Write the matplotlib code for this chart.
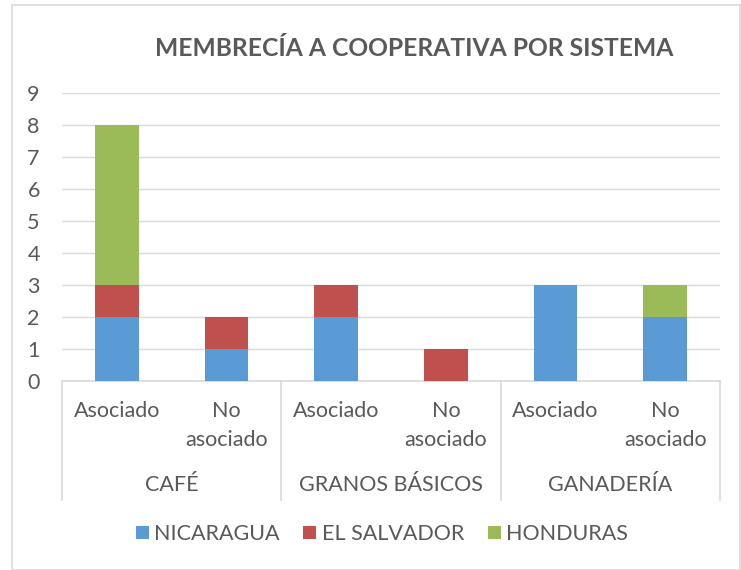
import matplotlib
matplotlib.use("Agg")
import matplotlib.pyplot as plt
import matplotlib.transforms as mtransforms
from matplotlib.patches import Rectangle

groups = ["CAFÉ", "GRANOS BÁSICOS", "GANADERÍA"]
subcats = ["Asociado", "No\nasociado"]
series_names = ["NICARAGUA", "EL SALVADOR", "HONDURAS"]
nicaragua = [2, 1, 2, 0, 3, 2]
el_salvador = [1, 1, 1, 1, 0, 0]
honduras = [5, 0, 0, 0, 0, 1]
colors = ["#5B9BD5", "#C0504D", "#9BBB59"]
yticks = list(range(0, 10))

plt.rcParams['font.family'] = ['Lato', 'DejaVu Sans']
txt = "#595959"
fs = 15.5

fig = plt.figure(figsize=(7.41, 5.70), dpi=100)
ax = fig.add_axes([62/741, 1-381/570, 658/741, 288/570])

n = len(nicaragua)
x = list(range(n))
bottom = [0]*n
for vals, c, name in zip([nicaragua, el_salvador, honduras], colors, series_names):
    ax.bar(x, vals, width=0.4, bottom=bottom, color=c, label=name, zorder=3)
    bottom = [b+v for b, v in zip(bottom, vals)]

ax.set_xlim(-0.5, n-0.5)
ax.set_ylim(0, 9)
ax.set_yticks(yticks)
ax.set_yticklabels([str(t) for t in yticks], fontsize=fs, color=txt)
ax.tick_params(axis='y', length=0, pad=16)
ax.set_xticks([])
ax.grid(axis='y', color='#d9d9d9', linewidth=1, zorder=0)
for s in ['top', 'right', 'left']:
    ax.spines[s].set_visible(False)
ax.spines['bottom'].set_color('#d9d9d9')
ax.spines['bottom'].set_linewidth(1.2)

trans = mtransforms.blended_transform_factory(ax.transData, ax.transAxes)
for i in range(n):
    lab = subcats[i % 2]
    if "\n" in lab:
        l1, l2 = lab.split("\n")
        ax.text(i, -30/288, l1, transform=trans, ha='center', va='center', fontsize=fs, color=txt)
        ax.text(i, -59/288, l2, transform=trans, ha='center', va='center', fontsize=fs, color=txt)
    else:
        ax.text(i, -30/288, lab, transform=trans, ha='center', va='center', fontsize=fs, color=txt)
for g, name in enumerate(groups):
    ax.text(2*g+0.5, -104/288, name, transform=trans, ha='center', va='center', fontsize=fs, color=txt)
for b in [-0.5, 1.5, 3.5, 5.5]:
    ax.plot([b, b], [0, -119/288], transform=trans, color='#d9d9d9', linewidth=1.2, clip_on=False)

fig.text(414/741, 1-48/570, "MEMBRECÍA A COOPERATIVA POR SISTEMA", ha='center', va='center',
         fontsize=17.7, fontweight='bold', color=txt)

leg = fig.legend(loc='center', bbox_to_anchor=(382/741, 1-534/570), ncol=3, frameon=False,
                 fontsize=fs, handlelength=0.6, handleheight=0.6, handletextpad=0.25,
                 columnspacing=1.1, labelcolor=txt)

fig.patches.append(Rectangle((12/741, 0), 1-12/741-1/741, 1-5/570, transform=fig.transFigure,
                             fill=False, edgecolor='#d9d9d9', linewidth=1.2))

fig.savefig("out.png", dpi=100)
